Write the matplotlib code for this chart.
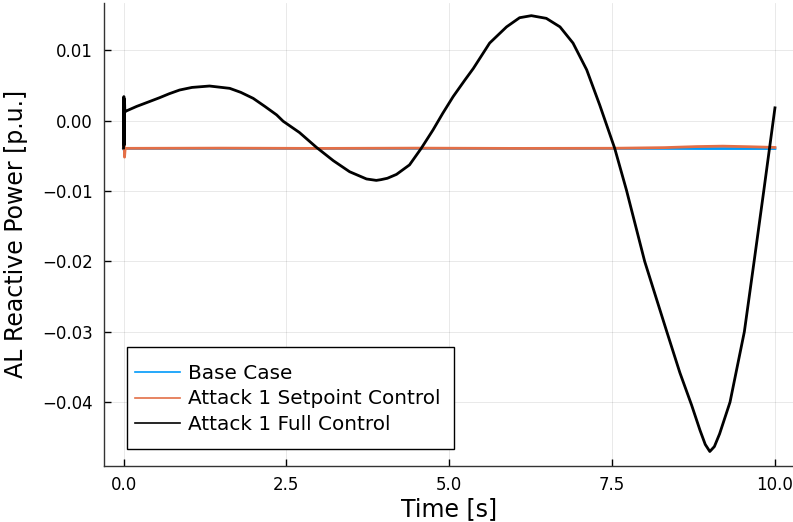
import matplotlib
matplotlib.use("Agg")
import matplotlib.pyplot as plt
from matplotlib.patches import Rectangle

# ---- data ----
t_full = [0.0, 0.005, 0.01, 0.015, 0.02, 0.04, 0.2, 0.40, 0.553, 0.7, 0.86, 1.05, 1.32,
          1.63, 1.80, 1.99, 2.17, 2.35, 2.45, 2.70, 2.96, 3.22, 3.47, 3.73, 3.88, 3.95,
          4.05, 4.19, 4.39, 4.57, 4.75, 4.90, 5.06, 5.24, 5.37, 5.62, 5.88, 6.08, 6.26,
          6.49, 6.70, 6.90, 7.11, 7.31, 7.54, 7.72, 8.00, 8.18, 8.34, 8.54, 8.72, 8.85,
          8.93, 9.00, 9.07, 9.15, 9.31, 9.53, 9.68, 9.83, 10.0]
q_full = [-0.0039, 0.0034, -0.0035, 0.0030, 0.0012, 0.00135, 0.0020, 0.0027, 0.00324,
          0.0038, 0.00433, 0.0047, 0.0049, 0.00457, 0.0040, 0.00315, 0.0020, 0.0008,
          -0.0001, -0.0017, -0.0038, -0.0057, -0.00727, -0.0083, -0.0085, -0.0084,
          -0.0082, -0.00765, -0.0063, -0.00395, -0.00135, 0.00102, 0.0034, 0.00575,
          0.0074, 0.0110, 0.0133, 0.0146, 0.01489, 0.01451, 0.0133, 0.0110, 0.0072, 0.0022,
          -0.00395, -0.00987, -0.0200, -0.0253, -0.0300, -0.0358, -0.0404, -0.0440,
          -0.0460, -0.0470, -0.0463, -0.0445, -0.0400, -0.0300, -0.0200, -0.00987, 0.0018]

t_base = [0.0, 0.01, 0.02, 0.05, 2.0, 5.0, 8.0, 9.0, 10.0]
q_base = [-0.0040, -0.0042, -0.0040, -0.00396, -0.00396, -0.00396, -0.00396, -0.00398, -0.00398]

t_setp = [0.0, 0.008, 0.015, 0.025, 0.05, 1.5, 3.0, 4.5, 6.0, 7.5, 8.3, 8.8, 9.2, 9.6, 10.0]
q_setp = [-0.0039, -0.0018, -0.0052, -0.0040, -0.00395, -0.00392, -0.00396, -0.00392,
          -0.00396, -0.00394, -0.00385, -0.00370, -0.00364, -0.00372, -0.00382]

labels = ["Base Case", "Attack 1 Setpoint Control", "Attack 1 Full Control"]
colors = ["#009AFA", "#E36F47", "#000000"]
xticks = [0.0, 2.5, 5.0, 7.5, 10.0]
yticks = [-0.04, -0.03, -0.02, -0.01, 0.0, 0.01]

# ---- figure ----
plt.rcParams['font.family'] = ['DejaVu Sans']
W, H = 793, 522
fig = plt.figure(figsize=(W / 100, H / 100), dpi=100)
ax_l, ax_r, ax_t, ax_b = 104, 794.5, 2.5, 466
ax = fig.add_axes([ax_l / W, 1 - ax_b / H, (ax_r - ax_l) / W, (ax_b - ax_t) / H])

ax.plot(t_base, q_base, color=colors[0], lw=2.0, label=labels[0])
ax.plot(t_setp, q_setp, color=colors[1], lw=2.0, label=labels[1])
ax.plot(t_full, q_full, color=colors[2], lw=2.0, label=labels[2])

ax.set_xlim(-0.3, 10.3)
ax.set_ylim(-0.04906, 0.01676)
ax.set_xticks(xticks)
ax.set_xticklabels([f"{v:.1f}" for v in xticks])
ax.set_yticks(yticks)
ax.set_yticklabels([f"{v:.2f}".replace("-", "\u2212") for v in yticks])

for s in ["top", "right"]:
    ax.spines[s].set_visible(False)
for s in ["left", "bottom"]:
    ax.spines[s].set_color("#333333")
    ax.spines[s].set_linewidth(1.0)

ax.grid(True, color="black", alpha=0.1, lw=0.6)
ax.tick_params(direction="in", length=5, width=1, labelsize=12, colors="black")
ax.tick_params(axis="y", pad=8)
ax.tick_params(axis="x", pad=7)

ax.set_xlabel("Time [s]", fontsize=17)
ax.set_ylabel("AL Reactive Power [p.u.]", fontsize=17)
ax.yaxis.set_label_coords((28 - ax_l) / (ax_r - ax_l), 0.5)
ax.xaxis.set_label_coords(0.5, -(497 - ax_b) / (ax_b - ax_t))

# legend: entries without frame, frame drawn as a separate box
leg = ax.legend(loc="center left",
                bbox_to_anchor=(135 / W, 1 - 399 / H), bbox_transform=fig.transFigure,
                borderaxespad=0, borderpad=0, fontsize=14.4, frameon=False,
                handlelength=2.25, handletextpad=0.4, labelspacing=0.32)
for line in leg.get_lines():
    line.set_linewidth(1.2)
fig.add_artist(Rectangle((127 / W, 1 - 449 / H), (454 - 127) / W, (449 - 347) / H,
                         transform=fig.transFigure, fill=True, facecolor="white",
                         edgecolor="black", lw=1.0, zorder=4))
leg.remove()
fig.add_artist(leg)
leg.set_zorder(5)

fig.savefig("out.png", dpi=100)
